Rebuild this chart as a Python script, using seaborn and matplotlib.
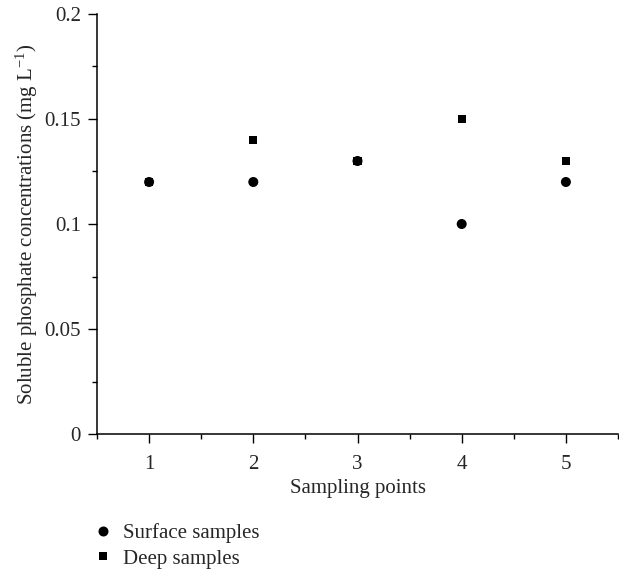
import pandas as pd
import seaborn as sns
import matplotlib.pyplot as plt
from matplotlib.ticker import MultipleLocator, FuncFormatter

points = [1, 2, 3, 4, 5]
surface = [0.12, 0.12, 0.13, 0.10, 0.12]
deep = [0.12, 0.14, 0.13, 0.15, 0.13]
y_ticks = [0, 0.05, 0.1, 0.15, 0.2]
series_names = ["Surface samples", "Deep samples"]


def build_frame():
    rows = []
    for name, vals in zip(series_names, [surface, deep]):
        for p, v in zip(points, vals):
            rows.append({"point": p, "conc": v, "sample": name})
    return pd.DataFrame(rows)


def plot_chart():
    df = build_frame()

    sns.set_style("ticks")
    plt.rcParams["font.family"] = ["Liberation Serif", "DejaVu Serif"]
    plt.rcParams["mathtext.fontset"] = "custom"
    plt.rcParams["mathtext.rm"] = "Liberation Serif"
    plt.rcParams["mathtext.it"] = "Liberation Serif:italic"

    fig = plt.figure(figsize=(6.19, 5.71), dpi=100)
    ax = fig.add_axes([97 / 619, 1 - 434 / 571, 521 / 619, 420 / 571])

    sns.scatterplot(
        data=df, x="point", y="conc", style="sample", size="sample",
        markers={"Surface samples": "o", "Deep samples": "s"},
        sizes={"Surface samples": 52, "Deep samples": 36},
        color="black", edgecolor="none", linewidth=0, ax=ax,
    )

    ax.set_xlim(0.5, 5.5)
    ax.set_ylim(0, 0.2)
    ax.set_xticks(points)
    ax.set_yticks(y_ticks)
    ax.xaxis.set_minor_locator(MultipleLocator(0.5))
    ax.yaxis.set_minor_locator(MultipleLocator(0.025))
    ax.yaxis.set_major_formatter(FuncFormatter(lambda v, _: f"{v:g}"))

    ax.tick_params(which="major", direction="out", length=6.5, width=1.0,
                   labelsize=15, color="black")
    ax.tick_params(which="minor", direction="out", length=3.5, width=1.0,
                   color="black")
    ax.tick_params(axis="x", which="major", pad=8.5)
    ax.tick_params(axis="y", which="major", pad=5)

    for side in ["top", "right"]:
        ax.spines[side].set_visible(False)
    for side in ["left", "bottom"]:
        ax.spines[side].set_linewidth(1.1)
        ax.spines[side].set_color("black")

    ax.set_xlabel("Sampling points", fontsize=15, labelpad=4)
    ax.set_ylabel("Soluble phosphate concentrations (mg L$^{-1}$)", fontsize=15, labelpad=3)

    sns.move_legend(
        ax, "upper left", bbox_to_anchor=(95 / 619, 1 - 523 / 571),
        bbox_transform=fig.transFigure, frameon=False, title=None,
        fontsize=15, handlelength=0.8, handletextpad=0.55, labelspacing=0.3,
        borderpad=0, borderaxespad=0,
    )

    fig.savefig("out.png", dpi=100)


if __name__ == "__main__":
    plot_chart()
